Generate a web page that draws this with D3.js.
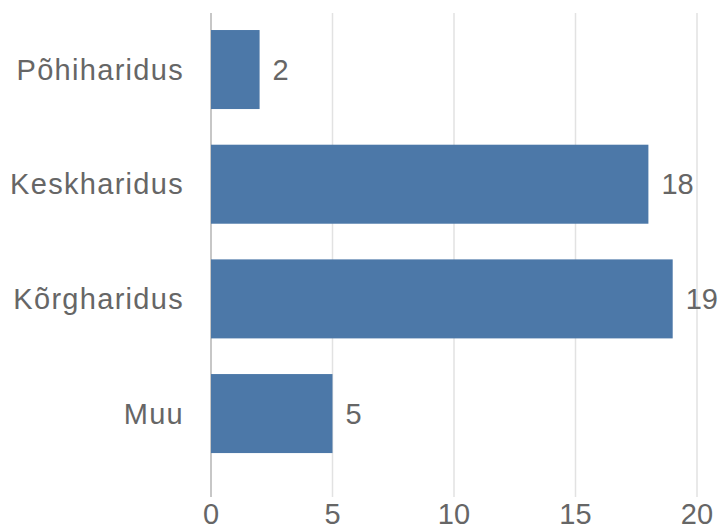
<!DOCTYPE html>
<html>
<head>
<meta charset="utf-8">
<script src="https://cdn.jsdelivr.net/npm/d3@7"></script>
<style>
  body { margin: 0; background: #fff; }
  text { font-family: "Liberation Sans", Arial, sans-serif; }
</style>
</head>
<body>
<svg id="chart" width="724" height="529"></svg>
<script>
const categories = ['Põhiharidus', 'Keskharidus', 'Kõrgharidus', 'Muu'];
const counts = [2, 18, 19, 5];
const xTicks = [0, 5, 10, 15, 20];

const data = categories.map((c, i) => ({ name: c, value: counts[i] }));

const svg = d3.select('#chart');
const width = 724;
const height = 529;
const margin = { top: 13, right: 27, bottom: 32, left: 211 };

// scales
const x = d3.scaleLinear()
  .domain([0, 20])
  .range([margin.left, width - margin.right]);

const y = d3.scaleBand()
  .domain(categories)
  .range([12.2, 470.9])
  .paddingInner(0.311)
  .paddingOuter(0.1555);

// vertical grid lines
svg.append('g')
  .selectAll('line')
  .data(xTicks)
  .enter()
  .append('line')
  .attr('x1', d => x(d))
  .attr('x2', d => x(d))
  .attr('y1', margin.top)
  .attr('y2', 497)
  .attr('stroke', d => d === 0 ? '#b5b5b5' : '#e2e2e2')
  .attr('stroke-width', 1.5);

// x tick labels
svg.append('g')
  .selectAll('text')
  .data(xTicks)
  .enter()
  .append('text')
  .attr('x', d => x(d))
  .attr('y', 514)
  .attr('text-anchor', 'middle')
  .attr('dominant-baseline', 'central')
  .attr('font-size', 29)
  .attr('fill', '#666')
  .text(d => d);

// bars
svg.append('g')
  .selectAll('rect')
  .data(data)
  .enter()
  .append('rect')
  .attr('x', x(0))
  .attr('y', d => y(d.name))
  .attr('width', d => x(d.value) - x(0))
  .attr('height', y.bandwidth())
  .attr('fill', '#4c78a8');

// category labels
svg.append('g')
  .selectAll('text')
  .data(data)
  .enter()
  .append('text')
  .attr('x', x(0) - 27)
  .attr('y', d => y(d.name) + y.bandwidth() / 2)
  .attr('text-anchor', 'end')
  .attr('dominant-baseline', 'central')
  .attr('font-size', 29)
  .attr('letter-spacing', 1.3)
  .attr('fill', '#666')
  .text(d => d.name);

// value labels
svg.append('g')
  .selectAll('text')
  .data(data)
  .enter()
  .append('text')
  .attr('x', d => x(d.value) + 13)
  .attr('y', d => y(d.name) + y.bandwidth() / 2)
  .attr('dominant-baseline', 'central')
  .attr('font-size', 29)
  .attr('fill', '#666')
  .text(d => d.value);
</script>
</body>
</html>
